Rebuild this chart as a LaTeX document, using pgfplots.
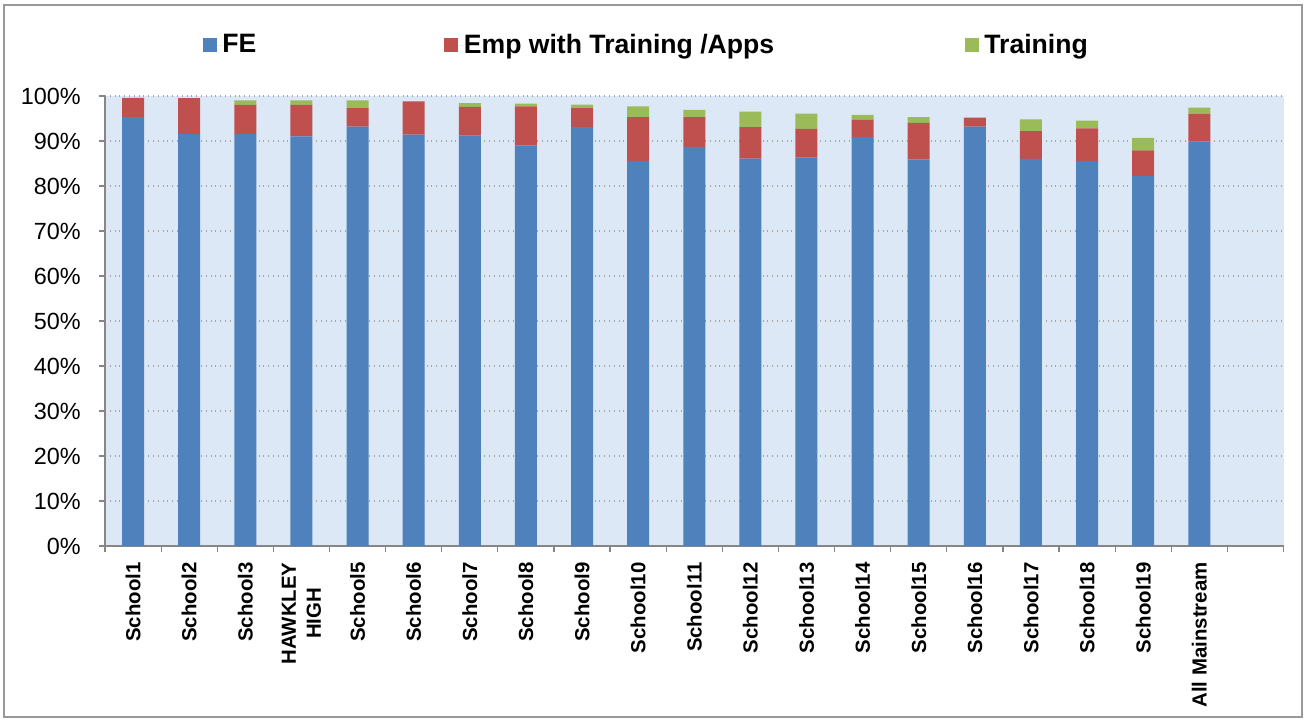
\documentclass[border=0pt]{standalone}
\usepackage{fontspec}
\setmainfont{Liberation Sans}
\usepackage{pgfplots}
\pgfplotsset{compat=1.18}
\definecolor{feblue}{HTML}{4F81BD}
\definecolor{empred}{HTML}{C0504D}
\definecolor{trgreen}{HTML}{9BBB59}
\definecolor{plotbg}{HTML}{DCE8F6}
\definecolor{axgray}{HTML}{868686}
\begin{document}
\begin{tikzpicture}
\begin{axis}[
  at={(0,0)}, anchor=south west,
  scale only axis, width=589.25pt, height=225pt,
  ybar stacked, bar width=11pt,
  xmin=-0.5, xmax=20.5, ymin=0, ymax=100,
  axis x line*=bottom, axis y line*=left,
  axis line style={draw=axgray, line width=1pt, -},
  axis background/.style={fill=plotbg},
  xtick={0,...,19},
  xticklabels={School1,School2,School3,{HAWKLEY\\HIGH},School5,School6,School7,School8,School9,School10,School11,School12,School13,School14,School15,School16,School17,School18,School19,All Mainstream},
  major x tick style={draw=none},
  minor xtick={-0.5,0.5,...,20.5},
  minor x tick style={draw=axgray, line width=0.6pt},
  minor tick length=3pt,
  major tick length=3pt,
  tick align=outside,
  ytick={0,10,...,100},
  y tick style={draw=axgray, line width=0.6pt},
  yticklabel={\pgfmathprintnumber{\tick}\%},
  /pgf/number format/assume math mode=true,
  yticklabel style={font=\fontsize{11.7}{13}\selectfont, inner sep=0pt, xshift=-9pt},
  xticklabel style={rotate=90, anchor=east, align=center, inner sep=0pt, xshift=-5pt,
     font=\fontsize{10.2}{12.5}\selectfont\bfseries},
  ymajorgrids,
  major grid style={draw=gray!70, dotted, line width=0.7pt},
  legend columns=3,
  legend image code/.code={\fill[#1] (0pt,-3.5pt) rectangle (7pt,3.5pt); \path (0pt,0pt) -- (9.75pt,0pt);},
  legend style={draw=none, fill=none, at={(rel axis cs:0.0827,1.113)}, anchor=west,
     inner sep=0pt, font=\fontsize{13.3}{15}\selectfont\bfseries,
     nodes={inner sep=0pt},
     /tikz/every even column/.append style={column sep=0pt},
     /tikz/every odd column/.append style={column sep=0pt}},
]
\addplot[fill=feblue, draw=none] coordinates {
(0,95.3) (1,91.5) (2,91.6) (3,91.0) (4,93.2) (5,91.4) (6,91.2) (7,89.0) (8,93.1) (9,85.6)
(10,88.7) (11,86.1) (12,86.3) (13,90.9) (14,85.9) (15,93.2) (16,86.0) (17,85.6) (18,82.2) (19,89.9)};
\addplot[fill=empred, draw=none] coordinates {
(0,4.3) (1,8.0) (2,6.4) (3,7.0) (4,4.1) (5,7.4) (6,6.4) (7,8.7) (8,4.2) (9,9.7)
(10,6.6) (11,7.0) (12,6.4) (13,3.8) (14,8.1) (15,2.0) (16,6.2) (17,7.2) (18,5.7) (19,6.2)};
\addplot[fill=trgreen, draw=none] coordinates {
(0,0) (1,0) (2,1.0) (3,1.0) (4,1.7) (5,0) (6,0.8) (7,0.6) (8,0.8) (9,2.4)
(10,1.6) (11,3.4) (12,3.4) (13,1.1) (14,1.3) (15,0) (16,2.6) (17,1.7) (18,2.8) (19,1.3)};
\legend{\makebox[111pt][l]{FE},\makebox[250.5pt][l]{Emp with Training /Apps},Training}
\end{axis}
\draw[gray!80, line width=0.8pt] (-50.5pt,-85.6pt) rectangle (598.6pt,270.5pt);
\path (-52.5pt,-86pt) rectangle (599.5pt,273pt);
\end{tikzpicture}
\end{document}
